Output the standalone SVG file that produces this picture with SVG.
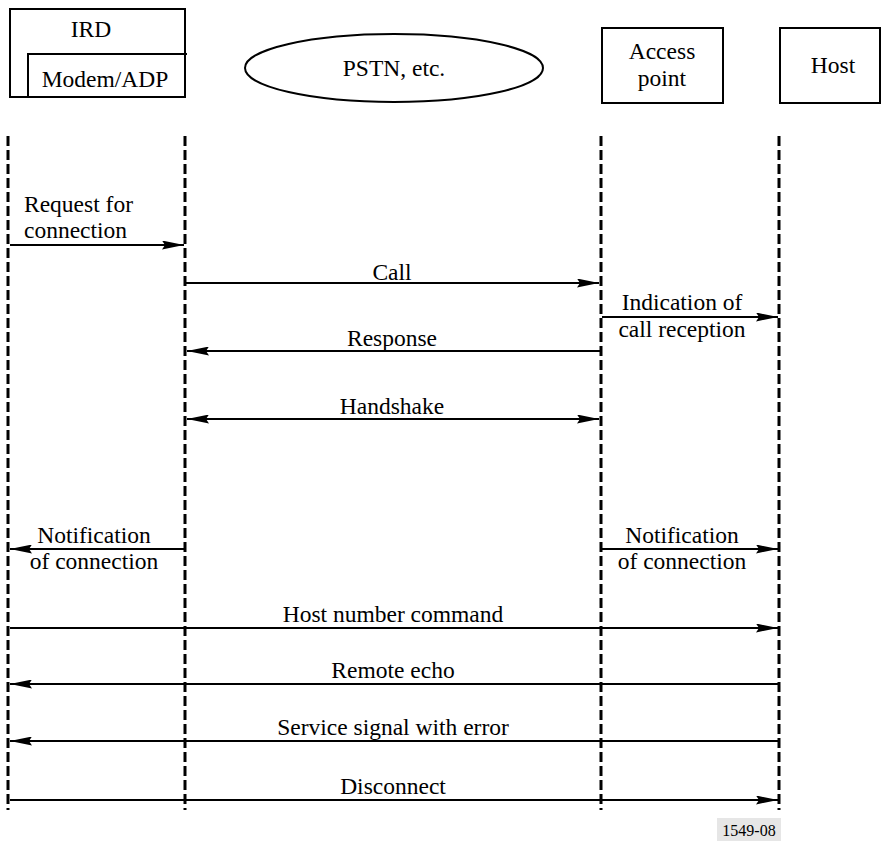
<svg xmlns="http://www.w3.org/2000/svg" width="891" height="841" viewBox="0 0 891 841">
<style>
text{font-family:'Liberation Serif','DejaVu Serif',serif;font-size:23.5px;fill:#000}
.c{text-anchor:middle}
.box{fill:none;stroke:#000;stroke-width:2}
.life{stroke:#000;stroke-width:3;stroke-dasharray:10 4;fill:none}
.msg{stroke:#000;stroke-width:2;fill:none}
.a{marker-end:url(#ah)}
.b{marker-start:url(#ah);marker-end:url(#ah)}
</style>
<defs>
<marker id="ah" markerUnits="userSpaceOnUse" markerWidth="22" markerHeight="9" refX="22" refY="4.5" orient="auto-start-reverse" viewBox="0 0 22 9">
<path d="M0,0 L22,4.5 L0,9 L3,4.5 z" fill="#000"/>
</marker>
</defs>
<rect width="891" height="841" fill="#fff"/>
<g id="ird">
<rect class="box" x="10" y="9" width="175" height="88"/>
<path class="box" d="M28,97 V54 H187"/>
<text class="c" x="91" y="37">IRD</text>
<text class="c" x="105" y="87">Modem/ADP</text>
</g>
<g id="pstn">
<ellipse class="box" cx="394" cy="68" rx="149" ry="34"/>
<text class="c" x="394" y="76">PSTN, etc.</text>
</g>
<g id="access">
<rect class="box" x="602" y="28" width="121" height="75"/>
<text class="c" x="662" y="59">Access</text>
<text class="c" x="662" y="86">point</text>
</g>
<g id="host">
<rect class="box" x="780" y="28" width="100" height="75"/>
<text class="c" x="833" y="73">Host</text>
</g>
<g id="lifelines">
<line class="life" x1="8" y1="136" x2="8" y2="810"/>
<line class="life" x1="185" y1="136" x2="185" y2="810"/>
<line class="life" x1="601" y1="136" x2="601" y2="810"/>
<line class="life" x1="779" y1="136" x2="779" y2="810"/>
</g>
<g id="connectors">
<line class="msg a" x1="10" y1="245" x2="184" y2="245"/>
<line class="msg a" x1="186" y1="283" x2="599" y2="283"/>
<line class="msg a" x1="602" y1="317" x2="778" y2="317"/>
<line class="msg a" x1="600" y1="351" x2="187" y2="351"/>
<line class="msg b" x1="187" y1="419" x2="599" y2="419"/>
<line class="msg a" x1="184" y1="549" x2="10" y2="549"/>
<line class="msg a" x1="602" y1="549" x2="778" y2="549"/>
<line class="msg a" x1="10" y1="628" x2="778" y2="628"/>
<line class="msg a" x1="778" y1="684" x2="10" y2="684"/>
<line class="msg a" x1="778" y1="741" x2="10" y2="741"/>
<line class="msg a" x1="10" y1="800" x2="778" y2="800"/>
</g>
<g id="labels">
<text x="24" y="212">Request for</text>
<text x="24" y="238">connection</text>
<text class="c" x="392" y="280">Call</text>
<text class="c" x="682" y="310">Indication of</text>
<text class="c" x="682" y="337">call reception</text>
<text class="c" x="392" y="346">Response</text>
<text class="c" x="392" y="414">Handshake</text>
<text class="c" x="94" y="543">Notification</text>
<text class="c" x="94" y="569">of connection</text>
<text class="c" x="682" y="543">Notification</text>
<text class="c" x="682" y="569">of connection</text>
<text class="c" x="393" y="622">Host number command</text>
<text class="c" x="393" y="678">Remote echo</text>
<text class="c" x="393" y="735">Service signal with error</text>
<text class="c" x="393" y="794">Disconnect</text>
</g>
<g id="figno">
<rect x="717" y="818" width="64" height="23" fill="#e6e6e6"/>
<text class="c" x="749" y="836" style="font-size:16px">1549-08</text>
</g>
</svg>
